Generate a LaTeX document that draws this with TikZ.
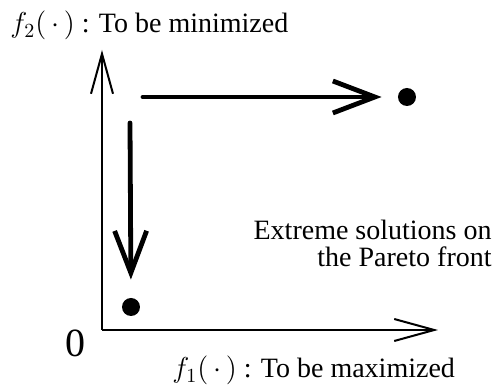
\documentclass[tikz,border=0pt]{standalone}
\usepackage{fontspec}
\setmainfont{Liberation Serif}
\usetikzlibrary{arrows.meta,positioning}

\begin{document}
\begin{tikzpicture}[
  x=0.5pt, y=-0.5pt,
  every node/.style={font=\fontsize{14}{13.5}\selectfont},
  axis/.style={-{Straight Barb[length=20pt, width=11pt]}, line width=1pt, black},
  flow/.style={-{Straight Barb[length=21pt, width=16pt]}, line width=2.4pt, black, line cap=round},
  dot/.style={circle, fill=black, minimum size=9pt, inner sep=0pt},
  lbl/.style={inner sep=0pt},
]
\useasboundingbox (0,0) rectangle (495,390);

% ---------------------------------------------------------------- axes --
\coordinate (origin) at (102,330);
\coordinate (xend)   at (438,330);
\coordinate (yend)   at (102,50);
\draw[axis] (origin) -- (xend);
\draw[axis] (origin) -- (yend);

\node[lbl, anchor=base, font=\fontsize{20}{22}\selectfont] (zero) at (76,357) {0};
\node[lbl, anchor=base west] (f2lbl) at (10,33) {$f_2(\,\cdot\,)$ : To be minimized};
\node[lbl, anchor=base west] (f1lbl) at (172,378) {$f_1(\,\cdot\,)$ : To be maximized};

% ------------------------------------------------------ extreme points --
\node[dot] (fmax) at (407,97) {};
\node[dot] (fmin) at (131,307) {};

\coordinate (hstart) at (143,97);
\coordinate (vstart) at (130,123);
\draw[flow, shorten >=8pt] (hstart) -- (fmax.west);
\draw[flow, shorten >=9pt] (vstart) -- (fmin.north);

\node[lbl, anchor=north east, align=right] (front) at (492,220)
  {Extreme solutions on\\the Pareto front};

\end{tikzpicture}
\end{document}
